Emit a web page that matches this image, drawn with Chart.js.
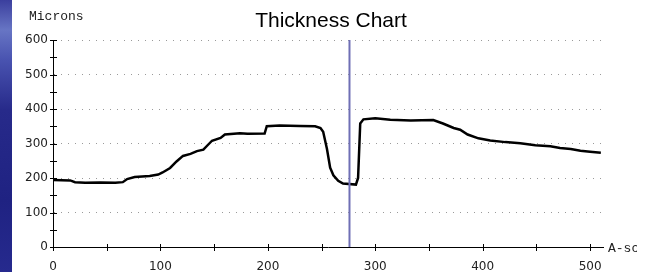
<!DOCTYPE html>
<html>
<head>
<meta charset="utf-8">
<script src="https://cdn.jsdelivr.net/npm/chart.js@4/dist/chart.umd.min.js"></script>
<style>
body { margin: 0; background: #fff; }
#wrap { position: relative; width: 657px; height: 272px; }
#thick { position: absolute; left: 0; top: 0; }
#bar {
    position: absolute; left: 0; top: 0; width: 12px; height: 272px;
    background: linear-gradient(to bottom, #3b3f9e 0px, #6775c4 30px, #4953b0 60px,
        #272a8a 110px, #1f2282 200px, #262a8e 272px);
}
</style>
</head>
<body>
<div id="wrap">
<canvas id="thick" width="657" height="272"></canvas>
<div id="bar"></div>
</div>
<script>
// A-scan position vs thickness
var positions = [0, 16, 20.5, 30, 44, 58, 65, 69, 76, 90, 98, 102, 109, 115, 121, 128,
    134, 140, 143, 148, 156, 160, 174, 181, 197, 199, 211, 230, 244, 249, 251.5,
    255, 258, 261, 265.5, 270, 282, 284, 286, 289, 300, 314, 333, 354, 363, 373,
    379, 386, 396, 407, 421, 435, 449, 463, 472, 482, 491, 500, 510];
var microns = [194, 193, 188, 186, 187, 186, 188, 197, 203, 206, 210, 216, 229, 248, 264, 270,
    278, 282, 292, 308, 316, 326, 330, 328, 329, 350, 352, 351, 350, 345, 334,
    285, 230, 208, 192, 184, 181, 200, 358, 370, 373, 369, 367, 368, 358, 345,
    340, 326, 315, 309, 304, 301, 295, 292, 287, 284, 279, 276, 273];
var cursor_pos = 276;
var x_labels = [0, 100, 200, 300, 400, 500];
var y_labels = [0, 100, 200, 300, 400, 500, 600];

var points = positions.map(function(p, i) { return {x: p, y: microns[i]}; });

var decor = {
    id: 'decor',
    afterDraw: function(chart) {
	var ctx = chart.ctx;
	var xs = chart.scales.x, ys = chart.scales.y;
	var a = chart.chartArea;

	// tick marks crossing the axes
	ctx.save();
	ctx.strokeStyle = '#000';
	ctx.lineWidth = 1;
	ctx.beginPath();
	xs.ticks.forEach(function(t) {
	    var px = Math.round(xs.getPixelForValue(t.value)) + 0.5;
	    ctx.moveTo(px, a.bottom - 3);
	    ctx.lineTo(px, a.bottom + 4);
	});
	ys.ticks.forEach(function(t) {
	    var py = Math.round(ys.getPixelForValue(t.value)) + 0.5;
	    ctx.moveTo(a.left - 3, py);
	    ctx.lineTo(a.left + 4, py);
	});
	ctx.stroke();

	ctx.fillStyle = '#000';
	ctx.textBaseline = 'middle';
	ctx.textAlign = 'center';
	ctx.font = '21px "Liberation Sans", Arial, sans-serif';
	ctx.fillText('Thickness Chart', 331, 21);

	ctx.fillStyle = '#222';
	ctx.textAlign = 'left';
	ctx.font = '13px "Liberation Mono", "Courier New", monospace';
	ctx.fillText('Microns', 29, 17);

	ctx.beginPath();
	ctx.rect(600, 230, 37, 40);
	ctx.clip();
	ctx.fillText('A-scan', 608, 249);
	ctx.restore();
    }
};

new Chart(document.getElementById('thick'), {
    type: 'line',
    data: {
	datasets: [{
	    data: [{x: cursor_pos, y: 0}, {x: cursor_pos, y: 600}],
	    borderColor: '#6f6fb5',
	    borderWidth: 2,
	    pointRadius: 0
	}, {
	    data: points,
	    borderColor: '#000',
	    borderWidth: 2.5,
	    pointRadius: 0,
	    tension: 0
	}]
    },
    options: {
	responsive: false,
	animation: false,
	layout: { padding: { left: 0, right: 54, top: 40, bottom: 0 } },
	plugins: {
	    legend: { display: false },
	    tooltip: { enabled: false }
	},
	scales: {
	    x: {
		type: 'linear',
		min: 0,
		max: 512,
		afterFit: function(s) { s.height = 25; },
		grid: { display: false, drawTicks: false },
		border: { display: true, color: '#000', width: 1 },
		ticks: {
		    stepSize: 50,
		    includeBounds: false,
		    maxRotation: 0,
		    autoSkip: false,
		    padding: 13,
		    color: '#222',
		    font: { family: '"DejaVu Sans", Verdana, sans-serif', size: 12 },
		    callback: function(v) { return x_labels.indexOf(v) >= 0 ? String(v) : ''; }
		}
	    },
	    y: {
		min: 0,
		max: 600,
		afterFit: function(s) { s.width = 53; },
		grid: {
		    drawTicks: false,
		    color: function(c) {
			var v = c.tick ? c.tick.value : 0;
			return (v > 0 && y_labels.indexOf(v) >= 0) ? '#9a9a9a' : 'rgba(0,0,0,0)';
		    }
		},
		border: { display: true, color: '#000', width: 1, dash: [1, 6] },
		ticks: {
		    stepSize: 50,
		    autoSkip: false,
		    padding: 5,
		    color: '#222',
		    font: { family: '"DejaVu Sans", Verdana, sans-serif', size: 12 },
		    callback: function(v) { return y_labels.indexOf(v) >= 0 ? String(v) : ''; }
		}
	    }
	}
    },
    plugins: [decor]
});
</script>
</body>
</html>
